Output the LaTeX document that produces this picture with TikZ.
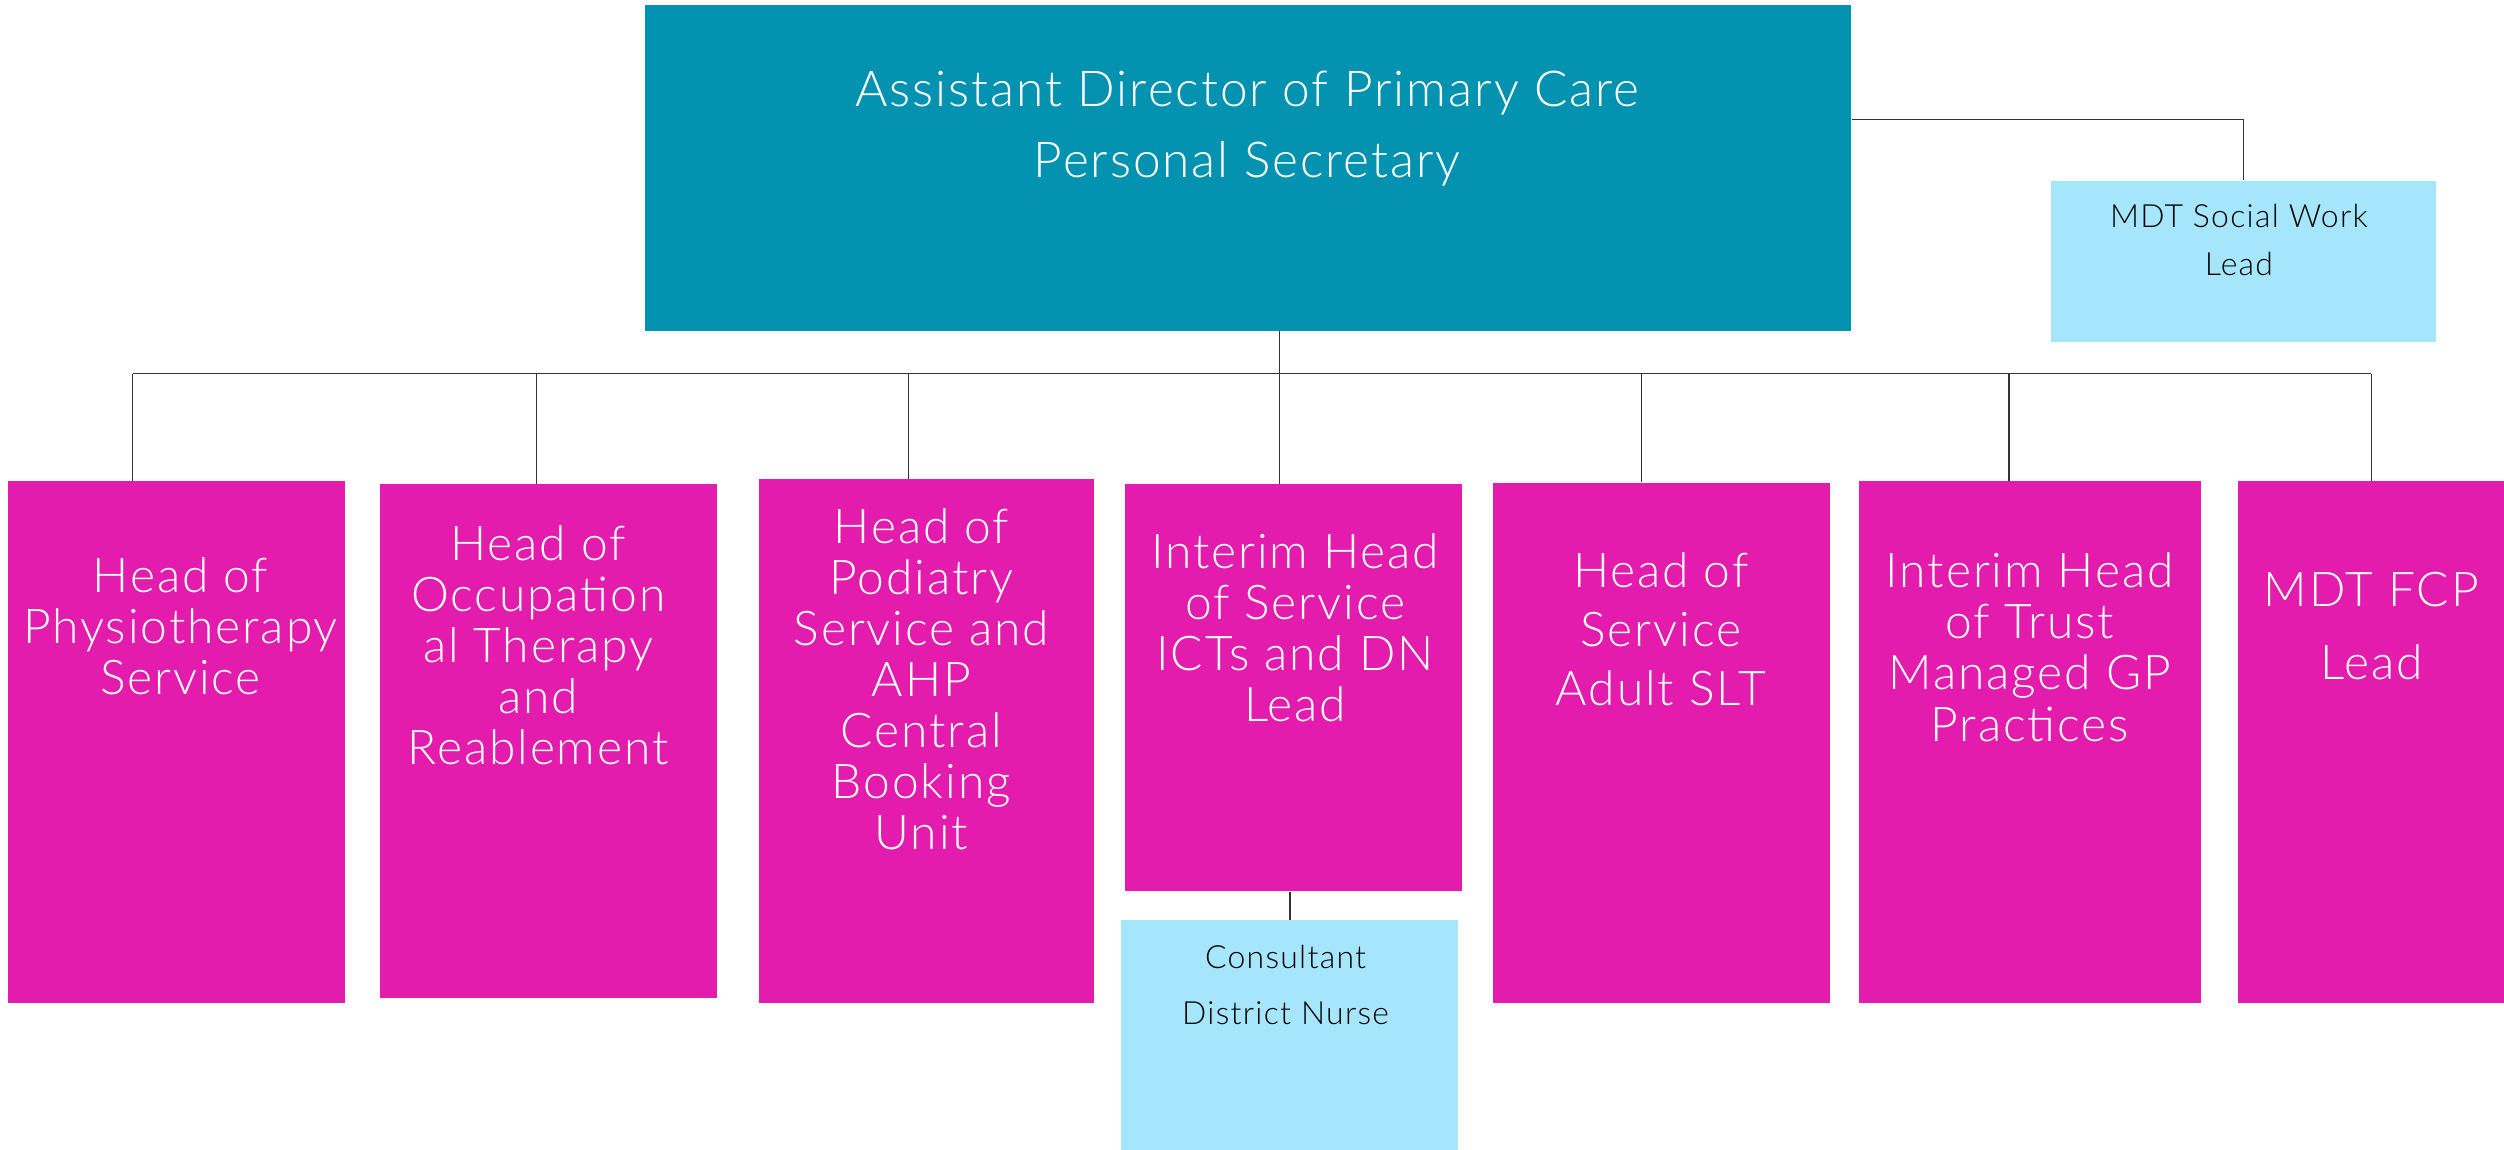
\documentclass[tikz,border=0pt]{standalone}
\usepackage{fontspec}
\IfFontExistsTF{Lato Light}{\setmainfont{Lato Light}[LetterSpace=4]}{\setmainfont{Lato}[LetterSpace=4]}
\definecolor{dirteal}{HTML}{0393B1}
\definecolor{headpink}{HTML}{E31CAE}
\definecolor{leadblue}{HTML}{A5E6FD}
\definecolor{linegray}{HTML}{333333}
\begin{document}
\begin{tikzpicture}[x=1pt, y=-1pt, line join=round,
  dirbox/.style={fill=dirteal, anchor=north west, inner sep=0, minimum width=755pt, minimum height=204pt},
  headbox/.style={fill=headpink, anchor=north west, inner sep=0, minimum width=211pt},
  leadbox/.style={fill=leadblue, anchor=north west, inner sep=0},
  headtxt/.style={anchor=north, align=center, text=white, inner sep=0, font=\fontsize{30}{32}\selectfont},
  leadtxt/.style={anchor=north, align=center, text=black, inner sep=0, font=\fontsize{20}{30}\selectfont},
  link/.style={draw=linegray, line width=0.8pt}]
\useasboundingbox (0,0) rectangle (1568,720);
\clip (0,0) rectangle (1568,720);
% director and social work lead
\node[dirbox] (dir) at (404,3) {};
\node[headtxt, font=\fontsize{31}{45}\selectfont] at (781,44) {Assistant Director of Primary Care\\Personal Secretary};
\node[leadbox, minimum width=241pt, minimum height=101pt] (social) at (1284,113) {};
\node[leadtxt] at (1402,128) {MDT Social Work\\Lead};
% heads of service
\node[headbox, minimum height=327pt] (physio) at (5,301) {};
\node[headbox, minimum height=322pt] (occ) at (238,303) {};
\node[headbox, minimum height=328pt, minimum width=210pt] (pod) at (475,300) {};
\node[headbox, minimum height=255pt] (icts) at (704,303) {};
\node[headbox, minimum height=326pt] (slt) at (935,302) {};
\node[headbox, minimum height=327pt, minimum width=214pt] (gp) at (1164,301) {};
\node[headbox, minimum height=327pt] (fcp) at (1401,301) {};
\node[leadbox, minimum width=211pt, minimum height=150pt] (nurse) at (702,576) {};
\node[headtxt] at (113,349) {Head of\\Physiotherapy\\Service};
\node[headtxt] at (337,329) {Head of\\Occupation\\al Therapy\\and\\Reablement};
\node[headtxt] at (577,318) {Head of\\Podiatry\\Service and\\AHP\\Central\\Booking\\Unit};
\node[headtxt] at (811,334) {Interim Head\\of Service\\ICTs and DN\\Lead};
\node[headtxt, font=\fontsize{30}{37}\selectfont] at (1040,346) {Head of\\Service\\Adult SLT};
\node[headtxt] at (1271,346) {Interim Head\\of Trust\\Managed GP\\Practices};
\node[headtxt, font=\fontsize{30}{46}\selectfont] at (1485,358) {MDT FCP\\Lead};
\node[leadtxt, font=\fontsize{20}{35}\selectfont] at (805,592) {Consultant\\District Nurse};
% connectors
\coordinate (bus) at (801,234);
\path ([xshift=78pt]physio.north west) coordinate (dphysio)
      ([xshift=98pt]occ.north west) coordinate (docc)
      ([xshift=94pt]pod.north west) coordinate (dpod)
      ([xshift=97pt]icts.north west) coordinate (dicts)
      ([xshift=93pt]slt.north west) coordinate (dslt)
      ([xshift=94pt]gp.north west) coordinate (dgp)
      ([xshift=84pt]fcp.north west) coordinate (dfcp);
\draw[link] (dphysio |- bus) -- (dfcp |- bus);
\draw[link] (dicts |- dir.south) -- (dicts);
\draw[link] (dphysio) -- (dphysio |- bus);
\draw[link] (docc) -- (docc |- bus);
\draw[link] (dpod) -- (dpod |- bus);
\draw[link] (dslt) -- (dslt |- bus);
\draw[link] (dgp) -- (dgp |- bus);
\draw[link] (dfcp) -- (dfcp |- bus);
\draw[link] ([yshift=-72pt]dir.north east) -| (social.north);
\draw[link] (nurse.north) -- (nurse.north |- icts.south);
\end{tikzpicture}
\end{document}
